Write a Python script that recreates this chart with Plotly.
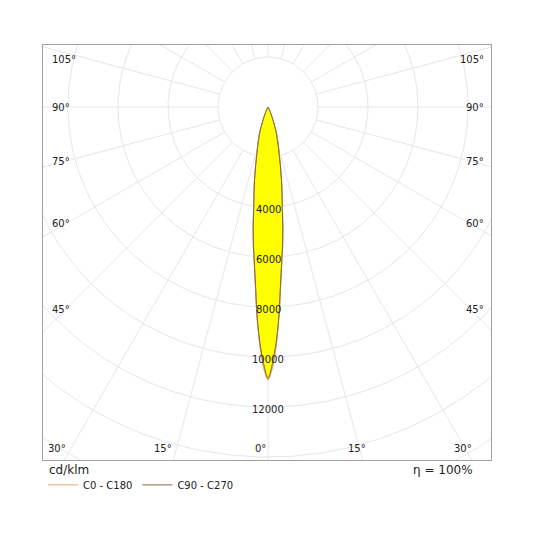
"""
Polar luminous intensity diagram (cd/klm) in a square frame, drawn on
cartesian axes so the rings and spokes get clipped by the frame.
"""

import numpy as np
import plotly.graph_objects as go

# Gamma angles (deg from nadir) and intensities in cd/klm
GAMMA = [0, 1, 2, 3, 4, 5, 6, 7, 8, 10, 12, 15, 18, 20, 22, 25, 30, 40, 90]
C0_C180 = [10920, 10400, 9500, 8400, 7200, 6300, 5600, 4900, 4150, 3200,
           2400, 1600, 1100, 700, 430, 200, 60, 10, 0]
C90_C270 = [10850, 10250, 9400, 8350, 7150, 6250, 5550, 4850, 4100, 3150,
            2350, 1550, 1050, 680, 410, 190, 55, 10, 0]

RINGS = [2000, 4000, 6000, 8000, 10000, 12000, 14000, 16000, 18000]
RING_LABELS = [4000, 6000, 8000, 10000, 12000]
SPOKES = list(range(0, 360, 15))
SIDE_ANGLES = [105, 90, 75, 60, 45]
BOTTOM_ANGLES = [-30, -15, 0, 15, 30]

_GRID = "#e6e6e6"
_FRAME = "#a0a0a0"
_TEXT = "#222222"
_FILL = "#ffff00"
_C0 = "#e0aa70"
_C90 = "#7d6a45"
_FONT = "DejaVu Sans"

# frame: 448 x 415 px, 0.025 px per cd, light centre at (268, 107)
PX = 0.025
X_RANGE = [-9000, 8920]
Y_RANGE = [-14120, 2480]


def curve(vals):
    g = np.radians(np.array(GAMMA, dtype=float))
    v = np.array(vals, dtype=float)
    # left half (C180 / C270) from 90 down to 0, then right half back up
    xs = np.concatenate([-(v * np.sin(g))[::-1], (v * np.sin(g))[1:]])
    ys = np.concatenate([-(v * np.cos(g))[::-1], -(v * np.cos(g))[1:]])
    return xs, ys


fig = go.Figure()

# concentric rings
t = np.linspace(0, 2 * np.pi, 361)
for r in RINGS:
    fig.add_trace(go.Scatter(x=r * np.cos(t), y=r * np.sin(t), mode="lines",
                             line=dict(color=_GRID, width=1),
                             hoverinfo="skip", showlegend=False))

# spokes every 15 deg, starting at the first ring
for a in SPOKES:
    ar = np.radians(a)
    fig.add_trace(go.Scatter(x=[RINGS[0] * np.sin(ar), 25000 * np.sin(ar)],
                             y=[-RINGS[0] * np.cos(ar), -25000 * np.cos(ar)],
                             mode="lines", line=dict(color=_GRID, width=1),
                             hoverinfo="skip", showlegend=False))

x0, y0 = curve(C0_C180)
fig.add_trace(go.Scatter(x=x0, y=y0, mode="lines", fill="toself",
                         fillcolor=_FILL,
                         line=dict(color=_C0, width=1, shape="spline", smoothing=0.8),
                         hoverinfo="skip", showlegend=False))
fig.add_trace(go.Scatter(x=x0, y=y0, mode="lines",
                         line=dict(color=_C0, width=1, shape="spline", smoothing=0.8),
                         name="C0 - C180"))
x9, y9 = curve(C90_C270)
fig.add_trace(go.Scatter(x=x9, y=y9, mode="lines",
                         line=dict(color=_C90, width=1, shape="spline", smoothing=0.8),
                         name="C90 - C270"))

# intensity labels along the nadir
for v in RING_LABELS:
    fig.add_annotation(x=0, y=-v - 100, text=str(v), showarrow=False,
                       font=dict(size=10, color=_TEXT, family=_FONT))

# angle labels where the spokes leave the frame
label_dx = 202 / PX
top_lim = Y_RANGE[1] - 14 / PX
for a in SIDE_ANGLES:
    ar = np.radians(a)
    y = -label_dx / np.tan(ar) if a != 90 else 0
    y = min(y, top_lim)
    fig.add_annotation(x=X_RANGE[0] + 7 / PX, y=y, text=f"{a}°", xanchor="left",
                       showarrow=False, font=dict(size=10, color=_TEXT, family=_FONT))
    fig.add_annotation(x=X_RANGE[1] - 5 / PX, y=y, text=f"{a}°", xanchor="right",
                       showarrow=False, font=dict(size=10, color=_TEXT, family=_FONT))

bottom_y = Y_RANGE[0] + 12 / PX
for a in BOTTOM_ANGLES:
    x = -bottom_y * np.tan(np.radians(a))
    if a < 0:
        fig.add_annotation(x=x - 3 / PX, y=bottom_y, text=f"{abs(a)}°", xanchor="right",
                           showarrow=False, font=dict(size=10, color=_TEXT, family=_FONT))
    elif a == 0:
        fig.add_annotation(x=x, y=bottom_y, text="0°", xanchor="right",
                           showarrow=False, font=dict(size=10, color=_TEXT, family=_FONT))
    else:
        fig.add_annotation(x=x - 2 / PX, y=bottom_y, text=f"{a}°", showarrow=False,
                           font=dict(size=10, color=_TEXT, family=_FONT))

fig.add_annotation(text="cd/klm", xref="paper", yref="paper", x=0.01, y=-0.025,
                   xanchor="left", yanchor="middle", showarrow=False,
                   font=dict(size=12, color=_TEXT, family=_FONT))
fig.add_annotation(text="η = 100%", xref="paper", yref="paper", x=0.965, y=-0.025,
                   xanchor="right", yanchor="middle", showarrow=False,
                   font=dict(size=12, color=_TEXT, family=_FONT))

axis = dict(showgrid=False, zeroline=False, showticklabels=False, ticks="",
            showline=True, mirror=True, linecolor=_FRAME, linewidth=1,
            fixedrange=True)
fig.update_layout(
    width=536, height=535,
    # page body adds ~8 px, so the frame lands at 43..491 x 45..460
    margin=dict(l=35, r=53, t=37, b=83),
    paper_bgcolor="white", plot_bgcolor="white",
    font=dict(family=_FONT, color=_TEXT, size=10),
    xaxis=dict(range=X_RANGE, **axis),
    yaxis=dict(range=Y_RANGE, **axis),
    legend=dict(orientation="h", x=0, xanchor="left", y=-0.06, yanchor="middle",
                itemwidth=30, bgcolor="rgba(0,0,0,0)",
                font=dict(size=10, family=_FONT, color=_TEXT)),
)

fig.write_html("out.html")
